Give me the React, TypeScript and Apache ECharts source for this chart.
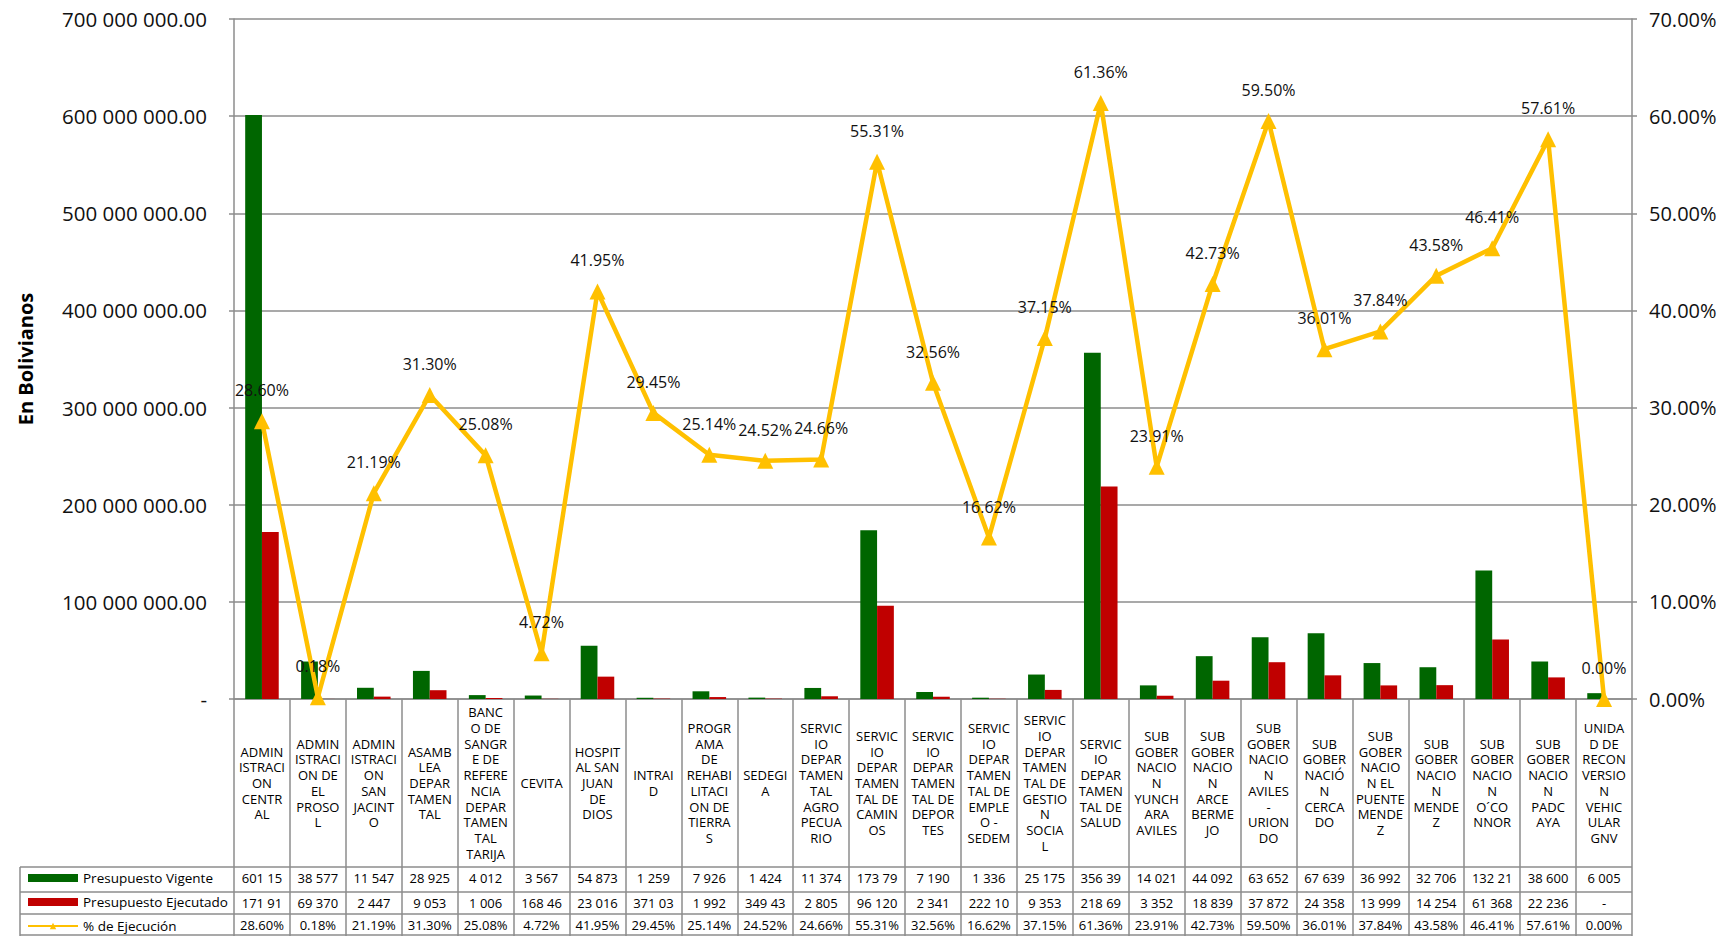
import React, { useEffect, useRef } from "react";
import * as echarts from "echarts";

const categoryLabels: string[] = [
  "ADMIN\nISTRACI\nON\nCENTR\nAL",
  "ADMIN\nISTRACI\nON DE\nEL\nPROSO\nL",
  "ADMIN\nISTRACI\nON\nSAN\nJACINT\nO",
  "ASAMB\nLEA\nDEPAR\nTAMEN\nTAL",
  "BANC\nO DE\nSANGR\nE DE\nREFERE\nNCIA\nDEPAR\nTAMEN\nTAL\nTARIJA",
  "CEVITA",
  "HOSPIT\nAL SAN\nJUAN\nDE\nDIOS",
  "INTRAI\nD",
  "PROGR\nAMA\nDE\nREHABI\nLITACI\nON DE\nTIERRA\nS",
  "SEDEGI\nA",
  "SERVIC\nIO\nDEPAR\nTAMEN\nTAL\nAGRO\nPECUA\nRIO",
  "SERVIC\nIO\nDEPAR\nTAMEN\nTAL DE\nCAMIN\nOS",
  "SERVIC\nIO\nDEPAR\nTAMEN\nTAL DE\nDEPOR\nTES",
  "SERVIC\nIO\nDEPAR\nTAMEN\nTAL DE\nEMPLE\nO -\nSEDEM",
  "SERVIC\nIO\nDEPAR\nTAMEN\nTAL DE\nGESTIO\nN\nSOCIA\nL",
  "SERVIC\nIO\nDEPAR\nTAMEN\nTAL DE\nSALUD",
  "SUB\nGOBER\nNACIO\nN\nYUNCH\nARA\nAVILES",
  "SUB\nGOBER\nNACIO\nN\nARCE\nBERME\nJO",
  "SUB\nGOBER\nNACIO\nN\nAVILES\n-\nURION\nDO",
  "SUB\nGOBER\nNACIÓ\nN\nCERCA\nDO",
  "SUB\nGOBER\nNACIO\nN EL\nPUENTE\nMENDE\nZ",
  "SUB\nGOBER\nNACIO\nN\nMENDE\nZ",
  "SUB\nGOBER\nNACIO\nN\nO´CO\nNNOR",
  "SUB\nGOBER\nNACIO\nN\nPADC\nAYA",
  "UNIDA\nD DE\nRECON\nVERSIO\nN\nVEHIC\nULAR\nGNV",
];

const presupuestoVigente: number[] = [
  601150000, 38577000, 11547000, 28925000, 4012000, 3567000, 54873000, 1259000,
  7926000, 1424000, 11374000, 173790000, 7190000, 1336000, 25175000, 356390000,
  14021000, 44092000, 63652000, 67639000, 36992000, 32706000, 132210000,
  38600000, 6005000,
];

const presupuestoEjecutado: number[] = [
  171910000, 69370, 2447000, 9053000, 1006000, 168460, 23016000, 371030,
  1992000, 349430, 2805000, 96120000, 2341000, 222100, 9353000, 218690000,
  3352000, 18839000, 37872000, 24358000, 13999000, 14254000, 61368000,
  22236000, 0,
];

const pctEjecucion: number[] = [
  28.6, 0.18, 21.19, 31.3, 25.08, 4.72, 41.95, 29.45, 25.14, 24.52, 24.66,
  55.31, 32.56, 16.62, 37.15, 61.36, 23.91, 42.73, 59.5, 36.01, 37.84, 43.58,
  46.41, 57.61, 0.0,
];

const vigenteText: string[] = [
  "601 15", "38 577", "11 547", "28 925", "4 012", "3 567", "54 873", "1 259",
  "7 926", "1 424", "11 374", "173 79", "7 190", "1 336", "25 175", "356 39",
  "14 021", "44 092", "63 652", "67 639", "36 992", "32 706", "132 21",
  "38 600", "6 005",
];

const ejecutadoText: string[] = [
  "171 91", "69 370", "2 447", "9 053", "1 006", "168 46", "23 016", "371 03",
  "1 992", "349 43", "2 805", "96 120", "2 341", "222 10", "9 353", "218 69",
  "3 352", "18 839", "37 872", "24 358", "13 999", "14 254", "61 368",
  "22 236", "-",
];

const pctText: string[] = pctEjecucion.map((v) => v.toFixed(2) + "%");

const W = 1735;
const H = 936;
const GRID_LEFT = 234;
const GRID_RIGHT = 1632;
const GRID_TOP = 19;
const GRID_BOTTOM = 699;
const TABLE_LEFT = 20;
const ROW_LINES = [867, 892, 914];
const ROW_CENTERS = [878, 903, 925];

const GRAY = "#8c8c8c";
const FONT = "Open Sans";

function fmtBs(v: number): string {
  if (v === 0) return "-";
  const s = Math.round(v).toString().replace(/\B(?=(\d{3})+(?!\d))/g, " ");
  return s + ".00";
}

export default function App() {
  const ref = useRef<HTMLDivElement>(null);

  useEffect(() => {
    if (!ref.current) return;
    const chart = echarts.init(ref.current, undefined, { renderer: "svg" });

    const tableAxis = (data: string[], center: number) => ({
      type: "category",
      gridIndex: 0,
      position: "bottom",
      data,
      axisLine: { show: false },
      axisTick: { show: false },
      splitLine: { show: false },
      axisLabel: {
        interval: 0,
        margin: center - GRID_BOTTOM,
        verticalAlign: "middle",
        fontSize: 13,
        color: "#000",
        fontFamily: FONT,
      },
    });

    const graphics: any[] = [];
    ROW_LINES.forEach((y) => {
      graphics.push({
        type: "line",
        shape: { x1: TABLE_LEFT, y1: y, x2: GRID_RIGHT, y2: y },
        style: { stroke: GRAY, lineWidth: 1.5 },
      });
    });
    graphics.push({
      type: "line",
      shape: { x1: TABLE_LEFT, y1: ROW_LINES[0], x2: TABLE_LEFT, y2: H },
      style: { stroke: GRAY, lineWidth: 1.5 },
    });
    graphics.push({
      type: "line",
      shape: { x1: TABLE_LEFT, y1: H - 1, x2: GRID_RIGHT, y2: H - 1 },
      style: { stroke: GRAY, lineWidth: 1.5 },
    });

    chart.setOption({
      animation: false,
      textStyle: { fontFamily: FONT },
      grid: {
        left: GRID_LEFT,
        right: W - GRID_RIGHT,
        top: GRID_TOP,
        bottom: H - GRID_BOTTOM,
        containLabel: false,
      },
      legend: {
        orient: "vertical",
        left: 27,
        top: ROW_CENTERS[0] - 8,
        height: 80,
        padding: 0,
        itemWidth: 50,
        itemHeight: 8,
        itemGap: 8,
        textStyle: { fontSize: 13.5, color: "#000", lineHeight: 16, fontFamily: FONT },
        data: [
          { name: "Presupuesto Vigente", icon: "rect" },
          { name: "Presupuesto Ejecutado", icon: "rect" },
          { name: "% de Ejecución" },
        ],
      },
      xAxis: [
        {
          type: "category",
          gridIndex: 0,
          position: "bottom",
          data: categoryLabels,
          boundaryGap: true,
          axisLine: { show: true, lineStyle: { color: GRAY, width: 1.5 } },
          axisTick: {
            show: true,
            interval: 0,
            length: H - GRID_BOTTOM,
            lineStyle: { color: GRAY, width: 1.5 },
          },
          axisLabel: {
            interval: 0,
            margin: 84,
            verticalAlign: "middle",
            fontSize: 13,
            lineHeight: 15.7,
            color: "#000",
            fontFamily: FONT,
          },
        },
        tableAxis(vigenteText, ROW_CENTERS[0]),
        tableAxis(ejecutadoText, ROW_CENTERS[1]),
        tableAxis(pctText, ROW_CENTERS[2]),
      ],
      yAxis: [
        {
          type: "value",
          min: 0,
          max: 700000000,
          interval: 100000000,
          name: "En Bolivianos",
          nameLocation: "middle",
          nameGap: 199,
          nameTextStyle: { fontSize: 20, fontWeight: "bold", color: "#000", fontFamily: FONT },
          axisLine: { show: true, lineStyle: { color: GRAY, width: 1.5 } },
          axisTick: { show: true, length: 5, lineStyle: { color: GRAY, width: 1.5 } },
          splitLine: { show: true, lineStyle: { color: GRAY, width: 1.5 } },
          axisLabel: {
            margin: 27,
            fontSize: 20.5,
            color: "#111",
            fontFamily: FONT,
            formatter: (v: number) => fmtBs(v),
          },
        },
        {
          type: "value",
          min: 0,
          max: 70,
          interval: 10,
          position: "right",
          axisLine: { show: true, lineStyle: { color: GRAY, width: 1.5 } },
          axisTick: { show: true, length: 5, lineStyle: { color: GRAY, width: 1.5 } },
          splitLine: { show: false },
          axisLabel: {
            margin: 17,
            fontSize: 20,
            color: "#111",
            fontFamily: FONT,
            formatter: (v: number) => v.toFixed(2) + "%",
          },
        },
      ],
      series: [
        {
          name: "Presupuesto Vigente",
          type: "bar",
          yAxisIndex: 0,
          data: presupuestoVigente,
          barGap: "0%",
          barCategoryGap: "40%",
          itemStyle: { color: "#006600" },
        },
        {
          name: "Presupuesto Ejecutado",
          type: "bar",
          yAxisIndex: 0,
          data: presupuestoEjecutado,
          barGap: "0%",
          barCategoryGap: "40%",
          itemStyle: { color: "#C00000" },
        },
        {
          name: "% de Ejecución",
          type: "line",
          yAxisIndex: 1,
          data: pctEjecucion,
          symbol: "triangle",
          symbolSize: 16,
          z: 5,
          lineStyle: { color: "#FFC000", width: 4.5 },
          itemStyle: { color: "#FFC000" },
          label: {
            show: true,
            position: "top",
            distance: 15,
            fontSize: 16,
            color: "#111",
            fontFamily: FONT,
            formatter: (p: any) => Number(p.value).toFixed(2) + "%",
          },
        },
      ],
      graphic: graphics,
    });

    return () => chart.dispose();
  }, []);

  return (
    <div
      ref={ref}
      style={{ position: "fixed", left: 0, top: 0, width: W, height: H, background: "#fff" }}
    />
  );
}
